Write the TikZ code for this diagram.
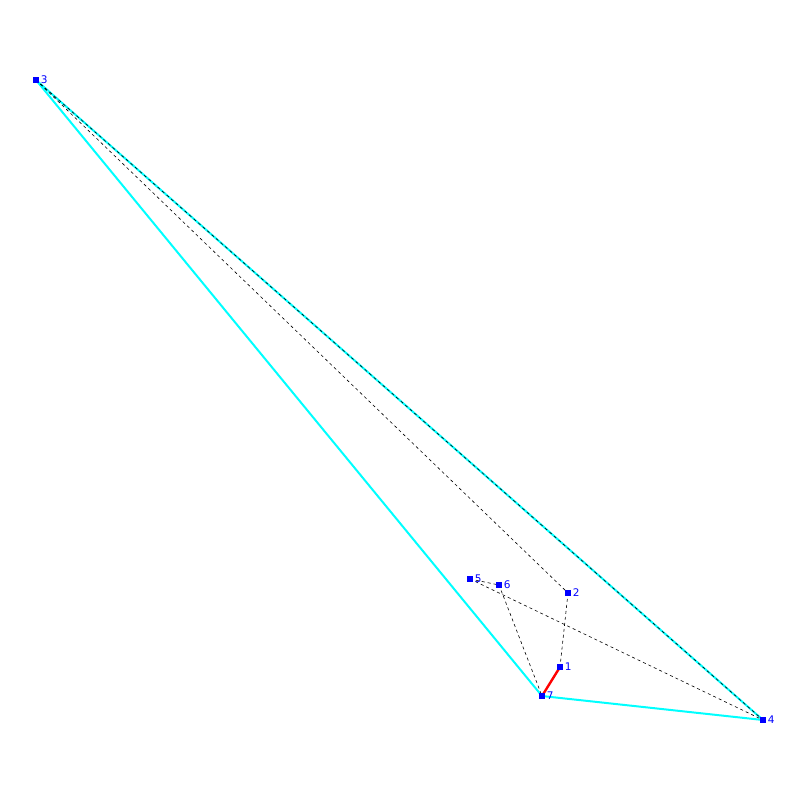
\documentclass[tikz,border=0pt]{standalone}
\usepackage{fontspec}
\setmainfont{DejaVu Sans}
\definecolor{hullcyan}{RGB}{0,255,255}
\definecolor{vblue}{RGB}{0,0,255}
\definecolor{ered}{RGB}{255,0,0}
\begin{document}
\begin{tikzpicture}[x=1pt,y=-1pt,
  vtx/.style={fill=vblue,draw=none,minimum size=6.5pt,inner sep=0pt,outer sep=0pt},
  lbl/.style={text=vblue,font=\fontsize{10.5}{10.5}\selectfont,inner sep=0pt,anchor=west},
  hull/.style={draw=hullcyan,line width=2pt},
  dsh/.style={draw=black,line width=0.6pt,dash pattern=on 3pt off 3pt},
  redge/.style={draw=ered,line width=2.4pt}]
\useasboundingbox (0,0) rectangle (800,800);
\coordinate (p1) at (560,667);
\coordinate (p2) at (568,593);
\coordinate (p3) at (36,80);
\coordinate (p4) at (763,720);
\coordinate (p5) at (470,579);
\coordinate (p6) at (499,585);
\coordinate (p7) at (542,696);
\draw[hull] (p3) -- (p4);
\draw[hull] (p3) -- (p7);
\draw[hull] (p7) -- (p4);
\draw[dsh] (p3) -- (p4);
\draw[dsh] (p3) -- (p2);
\draw[dsh] (p2) -- (p1);
\draw[dsh] (p5) -- (p6);
\draw[dsh] (p5) -- (p4);
\draw[dsh] (p6) -- (p7);
\draw[redge] (p7) -- (p1);
\foreach \i in {1,...,7}{
  \node[vtx] (n\i) at (p\i) {};
  \node[lbl] (l\i) at ([xshift=1.5pt]n\i.east) {\i};
}
\end{tikzpicture}
\end{document}
